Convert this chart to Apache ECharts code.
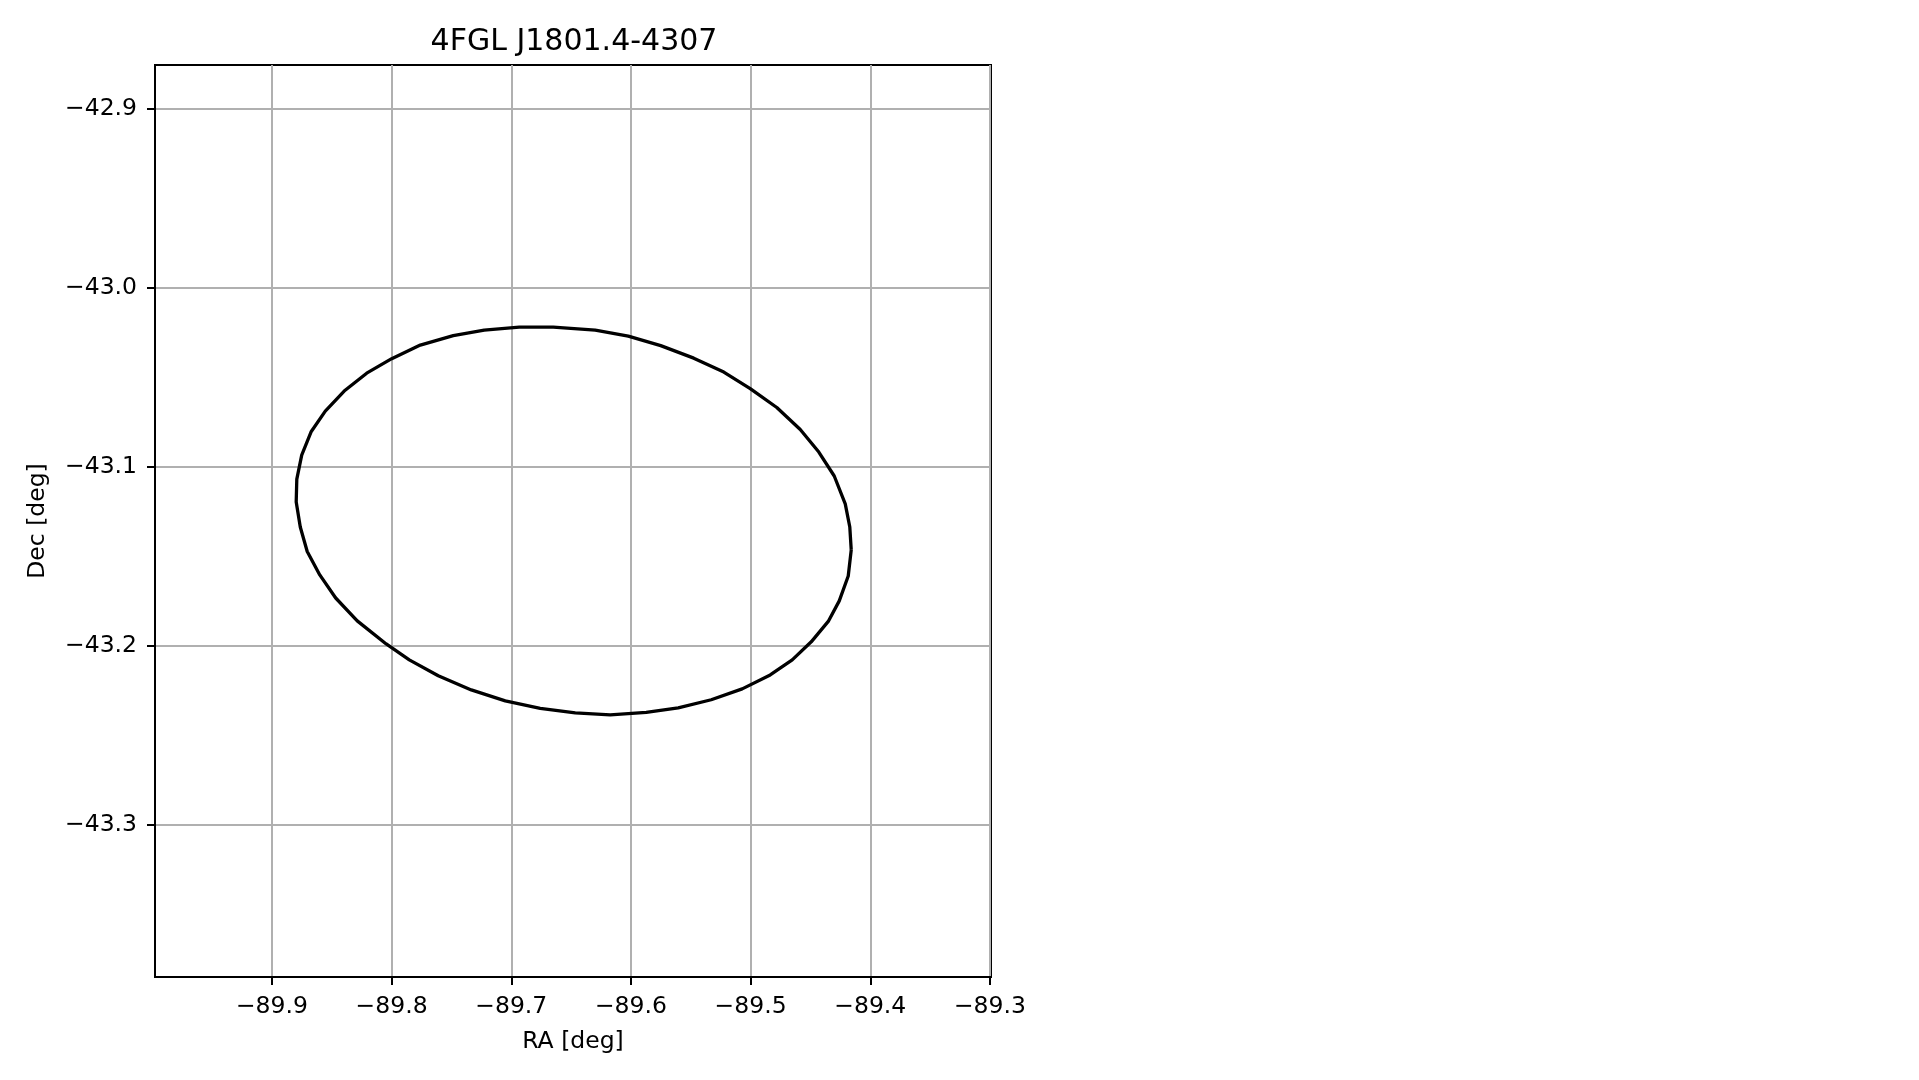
<!DOCTYPE html>
<html>
<head>
<meta charset="utf-8">
<script src="https://cdn.jsdelivr.net/npm/echarts@6/dist/echarts.min.js"></script>
<style>
html,body{margin:0;padding:0;background:#fff;}
#chart{width:1919px;height:1080px;}
</style>
</head>
<body>
<div id="chart"></div>
<script>
const titleText = "4FGL J1801.4-4307";
const xLabel = "RA [deg]";
const yLabel = "Dec [deg]";
const xTicks = [-89.9, -89.8, -89.7, -89.6, -89.5, -89.4, -89.3];
const yTicks = [-43.3, -43.2, -43.1, -43.0, -42.9];
const xLimits = [-89.9977, -89.2991];
const yLimits = [-43.3853, -42.8754];

const raValues = [
  -89.4159, -89.4171, -89.4209, -89.4301, -89.4430, -89.4585, -89.4781, -89.5003,
  -89.5224, -89.5475, -89.5751, -89.6022, -89.6298, -89.6649, -89.6933, -89.7226,
  -89.7485, -89.7760, -89.7999, -89.8208, -89.8396, -89.8554, -89.8671, -89.8751,
  -89.8792, -89.8797, -89.8763, -89.8705, -89.8600, -89.8467, -89.8287, -89.8045,
  -89.7852, -89.7610, -89.7334, -89.7050, -89.6758, -89.6465, -89.6173, -89.5872,
  -89.5605, -89.5329, -89.5070, -89.4836, -89.4652, -89.4493, -89.4351, -89.4259,
  -89.4184, -89.4159
];
const decValues = [
  -43.1465, -43.1337, -43.1208, -43.1052, -43.0918, -43.0792, -43.0669, -43.0563,
  -43.0471, -43.0393, -43.0323, -43.0270, -43.0236, -43.0220, -43.0220, -43.0236,
  -43.0267, -43.0320, -43.0396, -43.0477, -43.0577, -43.0689, -43.0803, -43.0935,
  -43.1069, -43.1197, -43.1337, -43.1474, -43.1605, -43.1734, -43.1862, -43.1991,
  -43.2080, -43.2169, -43.2248, -43.2309, -43.2351, -43.2376, -43.2387, -43.2373,
  -43.2348, -43.2303, -43.2242, -43.2164, -43.2080, -43.1979, -43.1865, -43.1750,
  -43.1611, -43.1465
];

const fontFam = '"DejaVu Sans", sans-serif';
const fmt = v => (v < 0 ? '\u2212' : '') + Math.abs(v).toFixed(1);

const chart = echarts.init(document.getElementById('chart'), null, {renderer: 'canvas'});
const option = {
  animation: false,
  backgroundColor: '#ffffff',
  title: {
    text: titleText,
    left: 569,
    top: 22,
    textAlign: 'center',
    textStyle: {fontFamily: fontFam, fontSize: 30, fontWeight: 'normal', color: '#000'}
  },
  grid: {
    left: 155, top: 65, width: 836, height: 912,
    show: true, borderColor: '#000', borderWidth: 2, backgroundColor: 'transparent'
  },
  xAxis: {
    type: 'value',
    min: xLimits[0], max: xLimits[1],
    name: xLabel,
    nameLocation: 'middle',
    nameGap: 53,
    nameTextStyle: {fontFamily: fontFam, fontSize: 23.5, color: '#000'},
    axisLine: {show: true, onZero: false, lineStyle: {color: '#000', width: 2}},
    axisTick: {show: true, inside: false, length: 8, lineStyle: {color: '#000', width: 2}, customValues: xTicks},
    axisLabel: {show: true, margin: 17.5, fontFamily: fontFam, fontSize: 23.5, color: '#000', formatter: fmt, customValues: xTicks},
    splitLine: {show: true, lineStyle: {color: '#b0b0b0', width: 2}}
  },
  yAxis: {
    type: 'value',
    min: yLimits[0], max: yLimits[1],
    name: yLabel,
    nameLocation: 'middle',
    nameGap: 105,
    nameRotate: 90,
    nameTextStyle: {fontFamily: fontFam, fontSize: 23.5, color: '#000'},
    axisLine: {show: true, onZero: false, lineStyle: {color: '#000', width: 2}},
    axisTick: {show: true, inside: false, length: 8, lineStyle: {color: '#000', width: 2}, customValues: yTicks},
    axisLabel: {show: true, margin: 18, fontFamily: fontFam, fontSize: 23.5, color: '#000', formatter: fmt, customValues: yTicks},
    splitLine: {show: true, lineStyle: {color: '#b0b0b0', width: 2}}
  },
  series: [{
    type: 'line',
    data: raValues.map((r, i) => [r, decValues[i]]),
    showSymbol: false,
    symbol: 'none',
    smooth: false,
    clip: true,
    lineStyle: {color: '#000', width: 3.3, join: 'round'},
    z: 5
  }]
};
chart.setOption(option);
</script>
</body>
</html>
